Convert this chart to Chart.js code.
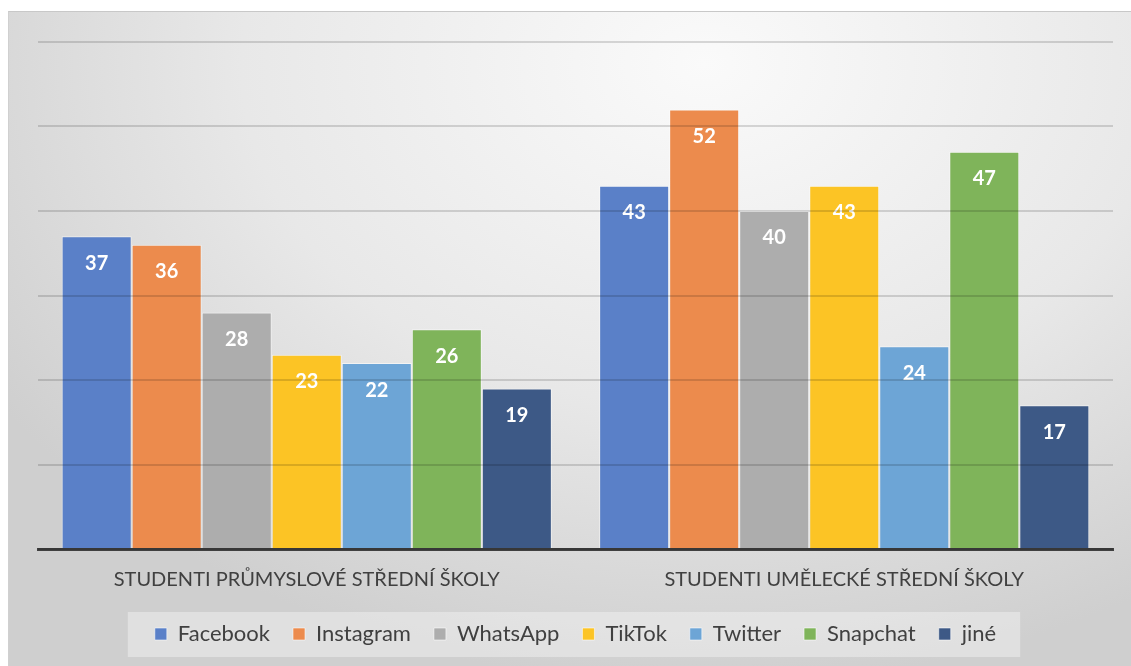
<!DOCTYPE html>
<html>
<head>
<meta charset="utf-8">
<script src="https://cdn.jsdelivr.net/npm/chart.js@4"></script>
<style>
  html, body { margin: 0; padding: 0; background: #fff; }
  #wrap {
    position: absolute; left: 8px; top: 11px; width: 1123px; height: 655px;
    border-top: 1px solid #c8c8c8; border-left: 1px solid #d0d0d0;
    box-sizing: border-box;
    background: radial-gradient(ellipse 75% 95% at 62% 8%, #fafafa 0%, #e8e8e8 55%, #cfcfcf 100%);
  }
</style>
</head>
<body>
<div id="wrap"><canvas id="chart"></canvas></div>
<script>
const categories = ['STUDENTI PRŮMYSLOVÉ STŘEDNÍ ŠKOLY', 'STUDENTI UMĚLECKÉ STŘEDNÍ ŠKOLY'];
const seriesNames = ['Facebook', 'Instagram', 'WhatsApp', 'TikTok', 'Twitter', 'Snapchat', 'jiné'];
const facebook = [37, 43];
const instagram = [36, 52];
const whatsapp = [28, 40];
const tiktok = [23, 43];
const twitter = [22, 24];
const snapchat = [26, 47];
const jine = [19, 17];
const colors = ['#5a80c8', '#ec8b4d', '#adadad', '#fcc425', '#6da5d6', '#7fb45a', '#3d5986'];

const values = [facebook, instagram, whatsapp, tiktok, twitter, snapchat, jine];

const barLabels = {
  id: 'barLabels',
  afterDatasetsDraw(chart) {
    const ctx = chart.ctx;
    ctx.save();
    ctx.fillStyle = '#ffffff';
    ctx.font = 'bold 20px Lato, "Open Sans", sans-serif';
    ctx.textAlign = 'center';
    ctx.textBaseline = 'middle';
    chart.data.datasets.forEach((ds, i) => {
      chart.getDatasetMeta(i).data.forEach((bar, j) => {
        ctx.fillText(ds.data[j], bar.x, bar.y + 27);
      });
    });
    ctx.restore();
  }
};

// lighter panel behind the legend
const legendBox = {
  id: 'legendBox',
  beforeDraw(chart) {
    const lg = chart.legend;
    if (!lg || !lg.legendHitBoxes.length) return;
    const boxes = lg.legendHitBoxes;
    const first = boxes[0], last = boxes[boxes.length - 1];
    const cy = first.top + first.height / 2;
    const ctx = chart.ctx;
    ctx.save();
    ctx.fillStyle = 'rgba(255,255,255,0.35)';
    ctx.fillRect(first.left - 27, cy - 22, last.left + last.width - first.left + 51, 45);
    ctx.restore();
  }
};

new Chart(document.getElementById('chart'), {
  type: 'bar',
  data: {
    labels: categories,
    datasets: seriesNames.map((name, i) => ({
      label: name,
      data: values[i],
      backgroundColor: colors[i],
      borderColor: 'rgba(255,255,255,0.55)',
      borderWidth: 1
    }))
  },
  options: {
    responsive: true,
    maintainAspectRatio: false,
    animation: false,
    layout: { padding: { left: 29, right: 18, top: 30, bottom: 11 } },
    datasets: { bar: { barPercentage: 1, categoryPercentage: 0.912 } },
    scales: {
      x: {
        grid: { display: false },
        border: { color: '#404040', width: 3 },
        afterFit: (scale) => { scale.height -= 3; },
        ticks: {
          color: '#404040',
          padding: 11,
          font: { family: 'Lato, "Open Sans", sans-serif', size: 20 }
        }
      },
      y: {
        min: 0,
        max: 60,
        ticks: { display: false, stepSize: 10 },
        border: { display: false },
        grid: { color: 'rgba(0,0,0,0.14)', lineWidth: 2, z: 1, drawTicks: false }
      }
    },
    plugins: {
      tooltip: { enabled: false },
      legend: {
        position: 'bottom',
        labels: {
          color: '#404040',
          boxWidth: 12,
          boxHeight: 12,
          padding: 23,
          font: { family: 'Lato, "Open Sans", sans-serif', size: 22 }
        }
      }
    }
  },
  plugins: [barLabels, legendBox]
});
</script>
</body>
</html>
